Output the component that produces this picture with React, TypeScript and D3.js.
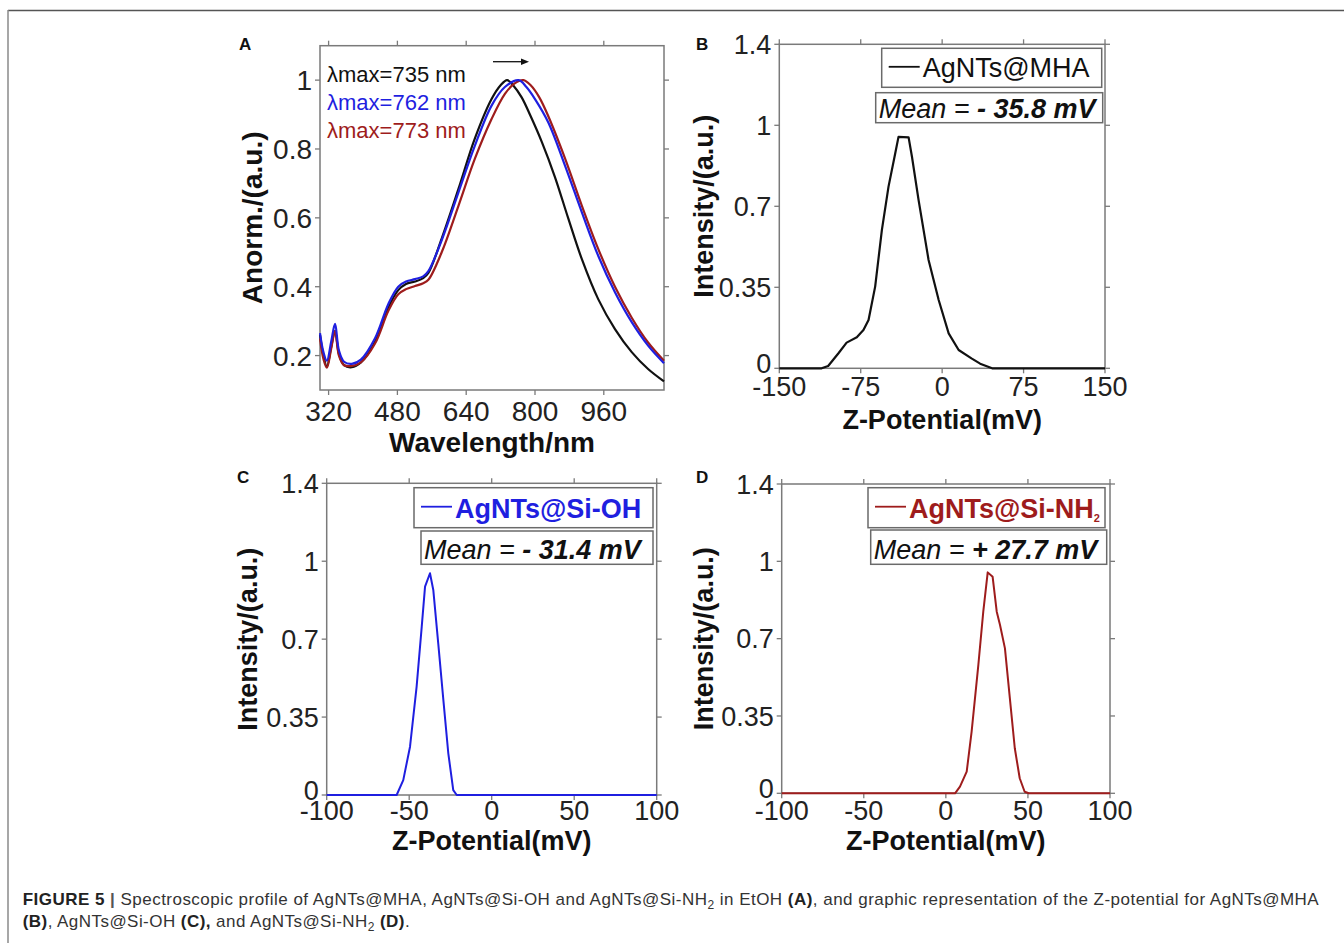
import { scaleLinear, line, curveCatmullRom, curveLinear } from 'd3'

const FONT = "'Liberation Sans', Arial, Helvetica, sans-serif"

// ---- panel A: UV-vis spectra, [wavelength nm, normalised absorbance]
const mhaSpectrum = [
  [300, 0.26], [308, 0.2], [316, 0.168], [326, 0.225], [335, 0.272], [344, 0.205], [356, 0.172],
  [374, 0.166], [395, 0.18], [428, 0.24], [459, 0.34], [482, 0.39], [500, 0.408], [521, 0.415],
  [540, 0.425], [552, 0.44], [583, 0.54], [622, 0.684], [660, 0.83], [699, 0.945], [720, 0.985],
  [735, 1.0], [750, 0.984], [769, 0.95], [790, 0.895], [816, 0.82], [846, 0.72], [877, 0.6],
  [909, 0.48], [947, 0.364], [986, 0.277], [1025, 0.21], [1063, 0.161], [1100, 0.125]
]
const siOhSpectrum = [
  [300, 0.265], [308, 0.21], [316, 0.185], [326, 0.24], [335, 0.292], [344, 0.215], [356, 0.182],
  [374, 0.176], [395, 0.188], [428, 0.25], [459, 0.35], [482, 0.4], [500, 0.415], [521, 0.422],
  [540, 0.43], [552, 0.445], [583, 0.535], [622, 0.674], [660, 0.809], [699, 0.926], [730, 0.98],
  [762, 1.0], [780, 0.98], [800, 0.945], [831, 0.877], [870, 0.751], [909, 0.616], [947, 0.49],
  [986, 0.384], [1025, 0.297], [1063, 0.229], [1100, 0.178]
]
const siNh2Spectrum = [
  [300, 0.25], [308, 0.19], [316, 0.165], [326, 0.22], [335, 0.272], [344, 0.2], [356, 0.172],
  [374, 0.17], [395, 0.18], [428, 0.235], [459, 0.33], [482, 0.378], [500, 0.393], [521, 0.402],
  [540, 0.41], [552, 0.42], [583, 0.5], [622, 0.635], [660, 0.771], [699, 0.887], [730, 0.96],
  [752, 0.99], [773, 1.0], [790, 0.985], [810, 0.95], [831, 0.895], [870, 0.772], [909, 0.635],
  [947, 0.51], [986, 0.4], [1025, 0.31], [1063, 0.238], [1100, 0.185]
]
const wavelengthTicks = [320, 480, 640, 800, 960]
const absTicks = [0.2, 0.4, 0.6, 0.8, 1]
const lambdaMaxLabels = ['λmax=735 nm', 'λmax=762 nm', 'λmax=773 nm']

// ---- panels B-D: zeta potential distributions, [mV, intensity]
const mhaZeta = [
  [-150, 0], [-111, 0], [-105, 0.01], [-95.5, 0.065], [-88, 0.111], [-78.6, 0.134], [-72.5, 0.165],
  [-67.8, 0.209], [-61.7, 0.353], [-55.5, 0.598], [-49.4, 0.785], [-43.2, 0.929], [-40.2, 1.0],
  [-30.9, 0.998], [-27.8, 0.914], [-21.7, 0.727], [-12.5, 0.468], [-3.2, 0.295], [6, 0.151],
  [15.2, 0.079], [27, 0.043], [35, 0.02], [46, 0], [150, 0]
]
const siOhZeta = [
  [-100, 0], [-57.6, 0], [-53.6, 0.067], [-49.5, 0.217], [-45.5, 0.487], [-42.4, 0.756],
  [-40.4, 0.936], [-37.4, 0.996], [-35.4, 0.921], [-32.4, 0.681], [-29.3, 0.427], [-26.3, 0.187],
  [-23.3, 0.022], [-21.2, 0], [100, 0]
]
const siNh2Zeta = [
  [-100, 0], [5.6, 0], [8.6, 0.03], [12.7, 0.098], [15.7, 0.279], [19.8, 0.581], [22.8, 0.822],
  [25.5, 1.0], [28.5, 0.98], [31, 0.822], [33, 0.762], [36, 0.656], [39, 0.43], [42, 0.204],
  [45, 0.068], [48, 0.007], [50.5, 0], [100, 0]
]
const zetaTicksB = [-150, -75, 0, 75, 150]
const zetaTicksCD = [-100, -50, 0, 50, 100]
const intensityTicks = [0, 0.35, 0.7, 1.05, 1.4]
const intensityTickLabels = ['0', '0.35', '0.7', '1', '1.4']
const meanLabels = ['- 35.8 mV', '- 31.4 mV', '+ 27.7 mV']

const BLACK = '#111111'
const BLUE = '#1f1fe0'
const RED = '#9e1c1c'

function Panel({ box, xDomain, yDomain, xTicks, yTicks, yTickLabels, fontSize, xLabelY,
  xTitle, xTitleY, yTitle, yTitleX, titleSize, series, curve, letter, letterPos, raiseFirst = 0 }: any) {
  const xScale = scaleLinear().domain(xDomain).range([box.l, box.r])
  const yScale = scaleLinear().domain(yDomain).range([box.b, box.t])
  const path = line<number[]>()
    .x(d => xScale(d[0]))
    .y(d => yScale(d[1]))
    .curve(curve)
  const tk = 5
  return (
    <g>
      <rect x={box.l} y={box.t} width={box.r - box.l} height={box.b - box.t}
        fill="none" stroke="#7a7a7a" strokeWidth={1.5} />
      {xTicks.map((t: number) => (
        <g key={'x' + t}>
          <line x1={xScale(t)} x2={xScale(t)} y1={box.t} y2={box.t - tk} stroke="#7a7a7a" strokeWidth={1.3} />
          <line x1={xScale(t)} x2={xScale(t)} y1={box.b} y2={box.b + tk} stroke="#7a7a7a" strokeWidth={1.3} />
          <text x={xScale(t)} y={xLabelY} textAnchor="middle" fontSize={fontSize} fill="#222">{t}</text>
        </g>
      ))}
      {yTicks.map((t: number, i: number) => (
        <g key={'y' + t}>
          <line x1={box.l - tk} x2={box.l} y1={yScale(t)} y2={yScale(t)} stroke="#7a7a7a" strokeWidth={1.3} />
          <line x1={box.r} x2={box.r + tk} y1={yScale(t)} y2={yScale(t)} stroke="#7a7a7a" strokeWidth={1.3} />
          <text x={box.l - 8} y={yScale(t) - (i === 0 ? raiseFirst : 0)} dy="0.36em" textAnchor="end"
            fontSize={fontSize} fill="#222">
            {yTickLabels[i]}
          </text>
        </g>
      ))}
      {series.map((s: any) => (
        <path key={s.color} d={path(s.data) || ''} fill="none" stroke={s.color} strokeWidth={s.width}
          strokeLinejoin="round" />
      ))}
      <text x={(box.l + box.r) / 2} y={xTitleY} textAnchor="middle" fontSize={titleSize}
        fontWeight="bold" fill="#111">{xTitle}</text>
      <text transform={`translate(${yTitleX},${(box.t + box.b) / 2}) rotate(-90)`} dy="0.36em"
        textAnchor="middle" fontSize={titleSize} fontWeight="bold" fill="#111">{yTitle}</text>
      <text x={letterPos[0]} y={letterPos[1]} fontSize={17} fontWeight="bold" fill="#111">{letter}</text>
    </g>
  )
}

function LegendBoxes({ legendBox, meanBox, label, sub, color, bold, mean }: any) {
  const midY = legendBox.y + legendBox.h / 2
  return (
    <g>
      <rect x={legendBox.x} y={legendBox.y} width={legendBox.w} height={legendBox.h}
        fill="#fff" stroke="#6a6a6a" strokeWidth={1.5} />
      <line x1={legendBox.x + 7} x2={legendBox.x + 38} y1={midY - 1} y2={midY - 1} stroke={color} strokeWidth={1.8} />
      <text x={legendBox.x + 41} y={legendBox.y + legendBox.h - 10} fontSize={27}
        fontWeight={bold ? 'bold' : 'normal'} fill={color}>
        {label}
        {sub && <tspan fontSize={11} dy={4}>{sub}</tspan>}
      </text>
      <rect x={meanBox.x} y={meanBox.y} width={meanBox.w} height={meanBox.h}
        fill="#fff" stroke="#6a6a6a" strokeWidth={1.5} />
      <text x={meanBox.x + 3} y={meanBox.y + meanBox.h - 5} fontSize={27} fontStyle="italic" fill="#111">
        Mean = <tspan fontWeight="bold">{mean}</tspan>
      </text>
    </g>
  )
}

function App() {
  const boxA = { l: 320, t: 45.7, r: 664, b: 390 }
  const boxB = { l: 779.3, t: 44.3, r: 1105, b: 368.3 }
  const boxC = { l: 326.7, t: 483.3, r: 656.7, b: 795 }
  const boxD = { l: 781.7, t: 484, r: 1110, b: 793.3 }

  return (
    <svg width={1344} height={943} style={{ position: 'absolute', left: 0, top: 0, display: 'block' }}
      fontFamily={FONT}>
      <rect width={1344} height={943} fill="#fff" />
      {/* figure frame */}
      <line x1={8} x2={1344} y1={10.5} y2={10.5} stroke="#555" strokeWidth={1.5} />
      <line x1={8} x2={8} y1={10} y2={943} stroke="#8a8a8a" strokeWidth={1.5} />

      <Panel box={boxA} xDomain={[300, 1100]} yDomain={[0.1, 1.1]} xTicks={wavelengthTicks}
        yTicks={absTicks} yTickLabels={absTicks.map(String)} fontSize={28} xLabelY={421}
        xTitle="Wavelength/nm" xTitleY={452} yTitle="Anorm./(a.u.)" yTitleX={252} titleSize={28}
        curve={curveCatmullRom}
        series={[
          { data: mhaSpectrum, color: BLACK, width: 2.2 },
          { data: siNh2Spectrum, color: RED, width: 2.2 },
          { data: siOhSpectrum, color: BLUE, width: 2.2 }
        ]}
        letter="A" letterPos={[239, 50]} />
      {lambdaMaxLabels.map((t, i) => (
        <text key={t} x={327} y={82 + i * 28} fontSize={22} fill={[BLACK, BLUE, RED][i]}>{t}</text>
      ))}
      <line x1={493} x2={524} y1={61.7} y2={61.7} stroke="#111" strokeWidth={1.3} />
      <path d="M529,61.7 L521,58.5 L521,64.9 Z" fill="#111" />

      <Panel box={boxB} xDomain={[-150, 150]} yDomain={[0, 1.4]} xTicks={zetaTicksB}
        yTicks={intensityTicks} yTickLabels={intensityTickLabels} fontSize={27} xLabelY={396}
        xTitle="Z-Potential(mV)" xTitleY={429} yTitle="Intensity/(a.u.)" yTitleX={703} titleSize={27}
        curve={curveLinear} raiseFirst={5}
        series={[{ data: mhaZeta, color: BLACK, width: 2.2 }]}
        letter="B" letterPos={[696, 50]} />
      <LegendBoxes legendBox={{ x: 881.7, y: 48.3, w: 220, h: 39 }}
        meanBox={{ x: 875.7, y: 92.7, w: 227, h: 30 }}
        label="AgNTs@MHA" color={BLACK} bold={false} mean={meanLabels[0]} />

      <Panel box={boxC} xDomain={[-100, 100]} yDomain={[0, 1.4]} xTicks={zetaTicksCD}
        yTicks={intensityTicks} yTickLabels={intensityTickLabels} fontSize={27} xLabelY={820}
        xTitle="Z-Potential(mV)" xTitleY={850} yTitle="Intensity/(a.u.)" yTitleX={247.5} titleSize={27}
        curve={curveLinear} raiseFirst={5}
        series={[{ data: siOhZeta, color: BLUE, width: 2 }]}
        letter="C" letterPos={[237, 483]} />
      <LegendBoxes legendBox={{ x: 414, y: 487.7, w: 239, h: 40 }}
        meanBox={{ x: 421, y: 531, w: 232, h: 33.3 }}
        label="AgNTs@Si-OH" color={BLUE} bold={true} mean={meanLabels[1]} />

      <Panel box={boxD} xDomain={[-100, 100]} yDomain={[0, 1.4]} xTicks={zetaTicksCD}
        yTicks={intensityTicks} yTickLabels={intensityTickLabels} fontSize={27} xLabelY={820}
        xTitle="Z-Potential(mV)" xTitleY={850} yTitle="Intensity/(a.u.)" yTitleX={703} titleSize={27}
        curve={curveLinear} raiseFirst={5}
        series={[{ data: siNh2Zeta, color: RED, width: 2 }]}
        letter="D" letterPos={[696, 483]} />
      <LegendBoxes legendBox={{ x: 868, y: 487.7, w: 237, h: 40 }}
        meanBox={{ x: 870.7, y: 530, w: 236, h: 34.3 }}
        label="AgNTs@Si-NH" sub="2" color={RED} bold={true} mean={meanLabels[2]} />

      {/* caption */}
      <text x={22.7} y={905} fontSize={17} fill="#333" textLength={1296} lengthAdjust="spacing">
        <tspan fontWeight="bold" fill="#222">FIGURE 5 </tspan>
        <tspan fontWeight="bold" fill="#555">|</tspan>
        {' Spectroscopic profile of AgNTs@MHA, AgNTs@Si-OH and AgNTs@Si-NH'}
        <tspan fontSize={12} dy={4}>2</tspan>
        <tspan dy={-4}>{' in EtOH '}</tspan>
        <tspan fontWeight="bold" fill="#222">(A)</tspan>
        {', and graphic representation of the Z-potential for AgNTs@MHA'}
      </text>
      <text x={22.7} y={927} fontSize={17} fill="#333" textLength={387} lengthAdjust="spacing">
        <tspan fontWeight="bold" fill="#222">(B)</tspan>
        {', AgNTs@Si-OH '}
        <tspan fontWeight="bold" fill="#222">(C),</tspan>
        {' and AgNTs@Si-NH'}
        <tspan fontSize={12} dy={4}>2</tspan>
        <tspan dy={-4}> </tspan>
        <tspan fontWeight="bold" fill="#222">(D)</tspan>
        {'.'}
      </text>
    </svg>
  )
}

export default App
